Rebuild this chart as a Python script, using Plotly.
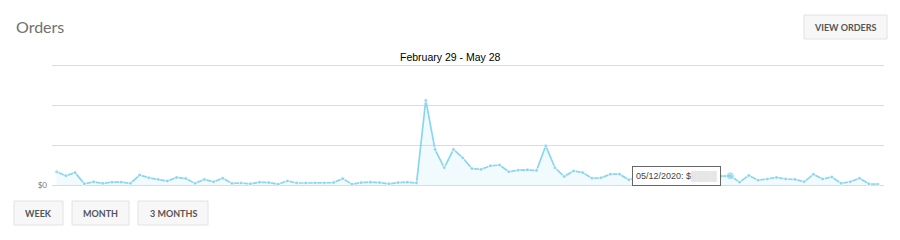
import plotly.graph_objects as go
import pandas as pd

# ---- data ----
dates = [d.strftime("%m/%d/%Y") for d in pd.date_range("2020-02-29", "2020-05-28", freq="D")]
orders = [
    0.33, 0.23, 0.31, 0.03, 0.08, 0.04, 0.07, 0.07, 0.04, 0.25,
    0.18, 0.14, 0.10, 0.19, 0.16, 0.04, 0.14, 0.08, 0.17, 0.04,
    0.05, 0.03, 0.07, 0.06, 0.02, 0.10, 0.05, 0.05, 0.05, 0.05,
    0.06, 0.16, 0.02, 0.06, 0.07, 0.06, 0.03, 0.06, 0.07, 0.05,
    2.12, 0.89, 0.43, 0.89, 0.68, 0.41, 0.39, 0.48, 0.50, 0.33,
    0.37, 0.38, 0.36, 0.98, 0.43, 0.21, 0.35, 0.31, 0.17, 0.18,
    0.27, 0.27, 0.13, 0.20, 0.24, 0.18, 0.22, 0.20, 0.15, 0.20,
    0.24, 0.18, 0.22, 0.23, 0.07, 0.24, 0.12, 0.15, 0.19, 0.15,
    0.14, 0.08, 0.27, 0.15, 0.20, 0.04, 0.08, 0.17, 0.03, 0.02,
]
highlight_date = "05/12/2020"
y_ticks = [0, 1, 2, 3]
y_tick_labels = ["$0", "", "", ""]
title_text = "Orders"
range_text = "February 29 - May 28"
buttons = ["WEEK", "MONTH", "3 MONTHS"]

# ---- geometry helpers (pixel -> paper) ----
L, R, T, B = 52, 884, 63, 187
def px(x):
    return (x - L) / (R - L)
def py(y):
    return (B - y) / (B - T)

sizes = [8 if d == highlight_date else 4 for d in dates]
hi_val = orders[dates.index(highlight_date)]

fig = go.Figure()
fig.add_trace(go.Scatter(
    x=dates, y=orders, mode="lines+markers",
    line=dict(color="#8ad6ee", width=1.7),
    marker=dict(color="#8ad6ee", size=sizes),
    fill="tozeroy", fillcolor="rgba(138,214,238,0.12)",
    hoverinfo="skip",
))

shapes = []
annotations = []

# buttons
btns = [("VIEW ORDERS", 804, 887, 15, 39)]
bx = [(14, 63), (72, 129), (138, 208)]
for (x0, x1), label in zip(bx, buttons):
    btns.append((label, x0, x1, 201, 225))
for label, x0, x1, y0, y1 in btns:
    shapes.append(dict(type="rect", xref="paper", yref="paper",
                       x0=px(x0), x1=px(x1), y0=py(y1), y1=py(y0),
                       line=dict(color="#e2e2e2", width=1), fillcolor="#f7f7f7", layer="above"))
    annotations.append(dict(xref="paper", yref="paper", x=px((x0 + x1) / 2), y=py((y0 + y1) / 2),
                            text="<b>%s</b>" % label, showarrow=False,
                            font=dict(family="Lato", size=9, color="#555555"),
                            xanchor="center", yanchor="middle"))

# title
annotations.append(dict(xref="paper", yref="paper", x=px(14), y=py(26), text=title_text,
                        showarrow=False, xanchor="left", yanchor="middle",
                        font=dict(family="Lato", size=16, color="#707070")))
# date range
annotations.append(dict(xref="paper", yref="paper", x=px(450.5), y=py(57), text=range_text,
                        showarrow=False, xanchor="center", yanchor="middle",
                        font=dict(family="Liberation Sans", size=10.5, color="#000000")))
# tooltip
annotations.append(dict(xref="x", yref="y", x=highlight_date, y=hi_val,
                        text="05/12/2020: $<span style='color:#e6e6e6'>████</span>",
                        showarrow=False, xanchor="right", yanchor="middle", xshift=-9,
                        font=dict(family="Liberation Sans", size=9, color="#444444"),
                        bgcolor="white", bordercolor="#666666", borderwidth=1, borderpad=3))

fig.update_layout(
    width=900, height=240,
    margin=dict(l=L, r=900 - R, t=T, b=240 - B),
    paper_bgcolor="white", plot_bgcolor="white",
    showlegend=False,
    shapes=shapes, annotations=annotations,
    xaxis=dict(type="category", range=[-0.5, 89.65], showgrid=False, showticklabels=False,
               zeroline=False, showline=False, ticks=""),
    yaxis=dict(range=[-0.05, 3.05], tickvals=y_ticks, ticktext=y_tick_labels, showgrid=True,
               gridcolor="#dcdcdc", gridwidth=1, zeroline=False, showline=False,
               tickfont=dict(family="Lato", size=8, color="#777777"), ticks="", ticklabelstandoff=4),
)
fig.write_html("out.html")
